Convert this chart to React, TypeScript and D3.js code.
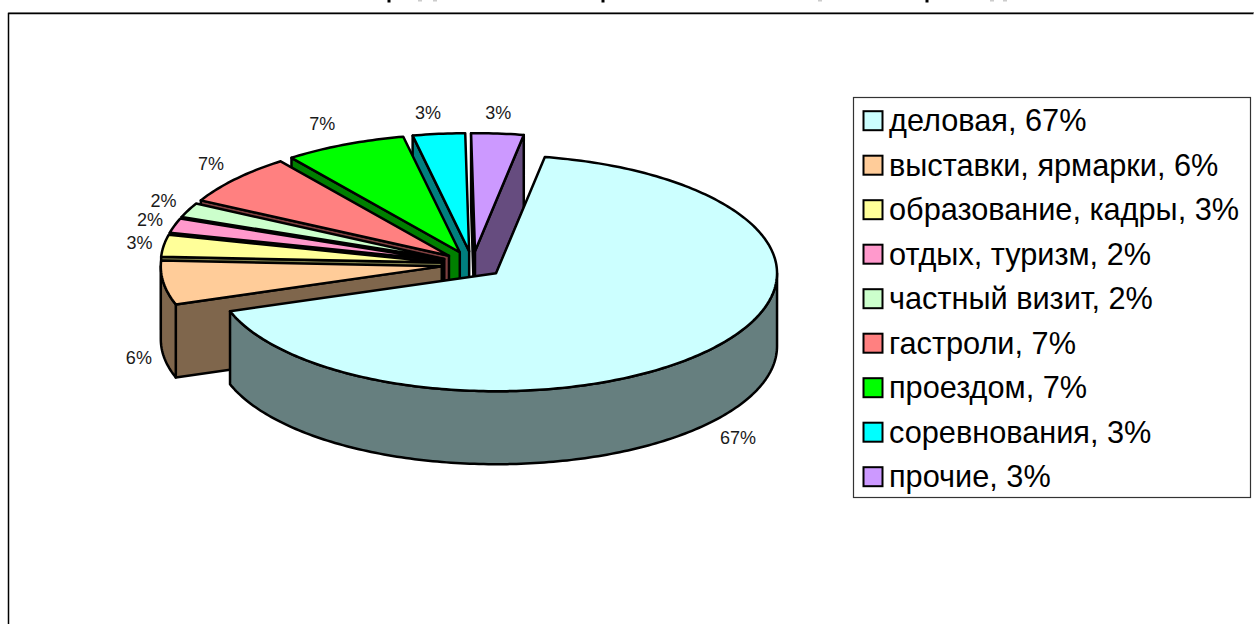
import React from "react";
import * as d3 from "d3";

const categories = ["деловая", "выставки, ярмарки", "образование, кадры", "отдых, туризм", "частный визит", "гастроли", "проездом", "соревнования", "прочие"];
const shares = [67, 6, 3, 2, 2, 7, 7, 3, 3];
const topColors = ["#CCFFFF", "#FFCC99", "#FFFF99", "#FF99CC", "#CCFFCC", "#FF8080", "#00FF00", "#00FFFF", "#CC99FF"];
const sideColors = ["#667F7F", "#7F664C", "#7F7F4C", "#7F4C66", "#667F66", "#7F4040", "#007F00", "#007F7F", "#664C7F"];
// The reference's title is cut off by the top of the picture: only these descender stubs remain.
const titleStubsBlack = [389, 603, 927];
const titleStubsGray = [420, 435, 820, 992, 1005];

const W = 1254, H = 624;
const FONT = "'Liberation Sans', Arial, sans-serif";
const rx = 281, ry = 118, depth = 73;
const cx = 472.5, cy = 264.5, explodeX = 31, explodeY = 13.4;
const labelRx = 316, labelRy = 142;
const labelNudgeX = [2, 10, 10.5, 9, 7, 2, -8, -7, -2];
const labelNudgeY = [-1, -1, 1, 1, 1, 1, 1, 3, 3];
const startDeg = 10;

const line = d3.line<[number, number]>().x(d => d[0]).y(d => d[1]);
const pieGen = d3.pie<number>().sort(null).startAngle(startDeg * Math.PI / 180).endAngle((startDeg + 360) * Math.PI / 180);
const arcs = pieGen(shares);

type Pt = [number, number];
const slices = arcs.map((a, i) => {
  const mid = (a.startAngle + a.endAngle) / 2;
  const ax = cx + explodeX * Math.sin(mid);
  const ay = cy - explodeY * Math.cos(mid);
  const at = (t: number, dy = 0): Pt => [ax + rx * Math.sin(t), ay - ry * Math.cos(t) + dy];
  const n = Math.max(4, Math.ceil((a.endAngle - a.startAngle) * 60));
  const ts = d3.range(n + 1).map(k => a.startAngle + (a.endAngle - a.startAngle) * k / n);
  const top = line([[ax, ay], ...ts.map(t => at(t))])! + "Z";

  // Flat cut faces, visible only when they turn towards the viewer.
  const faces: string[] = [];
  const addFace = (t: number) =>
    faces.push(line([[ax, ay], at(t), at(t, depth), [ax, ay + depth]])! + "Z");
  if (Math.sin(a.startAngle) < 0) addFace(a.startAngle);
  if (Math.sin(a.endAngle) > 0) addFace(a.endAngle);

  // Curved outer wall for the front half of the ellipse.
  const lo = Math.max(a.startAngle, Math.PI / 2), hi = Math.min(a.endAngle, 1.5 * Math.PI);
  let wall: string | null = null;
  if (hi > lo) {
    const m = Math.ceil((hi - lo) * 60);
    const ws = d3.range(m + 1).map(k => lo + (hi - lo) * k / m);
    wall = line([...ws.map(t => at(t)), ...ws.slice().reverse().map(t => at(t, depth))])! + "Z";
  }

  const s = Math.sin(mid), c = Math.cos(mid);
  const lx = ax + labelRx * s + labelNudgeX[i];
  const ly = ay - labelRy * c + (c < 0 ? depth : 0) + labelNudgeY[i];
  return { i, top, faces, wall, lx, ly };
});

// Painter's order: from the back slice anti-clockwise round to the front slice.
const drawOrder = d3.range(slices.length).sort((a, b) => (a === 0 ? 1 : b === 0 ? -1 : b - a));

const legendRow = d3.scalePoint<number>().domain(d3.range(categories.length)).range([120.7, 476.7]);

export default function App() {
  return (
    <svg width={W} height={H} viewBox={`0 0 ${W} ${H}`} style={{ position: "absolute", left: 0, top: 0, display: "block", background: "#fff" }}>
      {titleStubsBlack.map(x => <rect key={x} x={x - 1.5} y={0} width={3} height={2.5} fill="#000" />)}
      {titleStubsGray.map(x => <rect key={x} x={x - 2} y={0} width={4} height={1.5} fill="#ccc" />)}

      <path d={`M8.5 ${H}V12.5H${W}`} fill="none" stroke="#999" strokeWidth={1} />
      <path d={`M9 ${H}V13.5H${W}`} fill="none" stroke="#000" strokeWidth={1.5} transform="translate(-0.5,0)" />

      <g stroke="#000" strokeWidth={2.5} strokeLinejoin="round">
        {drawOrder.map(k => {
          const s = slices[k];
          return (
            <g key={k}>
              {s.faces.map((d, j) => <path key={j} d={d} fill={sideColors[k]} />)}
              {s.wall && <path d={s.wall} fill={sideColors[k]} />}
              <path d={s.top} fill={topColors[k]} />
            </g>
          );
        })}
      </g>

      <g fontFamily={FONT} fontSize={18} fill="#1a1a1a" textAnchor="middle" dominantBaseline="central">
        {slices.map(s => <text key={s.i} x={s.lx} y={s.ly}>{shares[s.i]}%</text>)}
      </g>

      <rect x={853.5} y={97.5} width={397} height={400} fill="#fff" stroke="#333" strokeWidth={1.2} />
      <g fontFamily={FONT} fontSize={30.7}>
        {categories.map((c, i) => {
          const y = legendRow(i)!;
          return (
            <g key={c}>
              <rect x={863.5} y={y - 9.5} width={19} height={19} fill={topColors[i]} stroke="#000" strokeWidth={2} />
              <text x={889} y={y + 10.5} fill="#000">{c}, {shares[i]}%</text>
            </g>
          );
        })}
      </g>
    </svg>
  );
}
